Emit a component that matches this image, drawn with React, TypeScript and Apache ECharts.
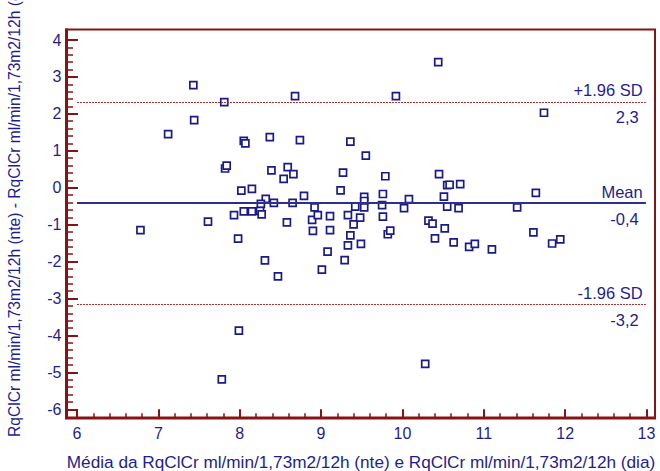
import React, { useEffect, useRef } from "react";
import * as echarts from "echarts";

// Average of the two measurements (x) for each subject
const meanValues = [
  6.78, 7.12, 7.43, 7.44, 7.81, 8.05, 8.07, 8.37, 8.68, 8.74,
  9.36, 9.55, 9.92, 10.44, 11.74, 7.82, 7.84, 8.02, 8.15, 8.32,
  8.42, 8.26, 8.39, 8.54, 8.59, 8.66, 8.65, 8.79, 8.92, 9.24,
  9.27, 9.42, 7.61, 7.93, 8.05, 8.15, 8.25, 8.27, 7.98, 8.31,
  8.47, 8.58, 8.89, 8.9, 8.96, 9.11, 9.11, 9.08, 9.01, 9.33,
  9.4, 9.36, 9.33, 9.29, 9.48, 9.49, 7.78, 7.99, 9.53, 9.53,
  9.53, 9.76, 9.79, 9.75, 9.76, 9.82, 9.85, 10.02, 10.08, 10.32,
  10.37, 10.45, 10.4, 10.28, 10.51, 10.55, 10.58, 10.71, 10.55, 10.69,
  10.52, 10.63, 10.82, 10.89, 11.1, 11.41, 11.64, 11.61, 11.84, 11.94,
];

// Difference between the two measurements (y) for each subject
const diffValues = [
  -1.15, 1.45, 2.78, 1.83, 2.32, 1.27, 1.2, 1.37, 2.48, 1.29,
  1.25, 0.87, 2.48, 3.4, 2.03, 0.52, 0.6, -0.08, -0.03, -0.3,
  -0.41, -0.44, 0.47, 0.24, 0.56, 0.37, -0.41, -0.22, -0.53, -0.07,
  0.41, -0.51, -0.92, -0.74, -0.64, -0.64, -0.63, -0.72, -1.38, -1.97,
  -2.4, -0.94, -0.87, -1.17, -0.74, -0.77, -1.15, -1.73, -2.22, -0.74,
  -0.99, -1.29, -1.56, -1.96, -0.81, -1.52, -5.19, -3.87, -0.25, -0.36,
  -0.53, -0.17, 0.31, -0.47, -0.78, -1.26, -1.16, -0.55, -0.31, -0.89,
  -0.97, 0.37, -1.37, -4.77, -0.24, 0.07, 0.08, 0.1, -0.51, -0.55,
  -1.1, -1.48, -1.6, -1.52, -1.67, -0.53, -0.14, -1.21, -1.51, -1.4,
];

const MEAN_DIFF = -0.42;
const SD_DIFF = 1.4;
const Z_95 = 1.96;

const X_TITLE = "Média da RqClCr ml/min/1,73m2/12h (nte) e RqClCr ml/min/1,73m2/12h (dia)";
const Y_TITLE = "RqClCr ml/min/1,73m2/12h (nte) - RqClCr ml/min/1,73m2/12h (dia)";

const NAVY = "#1e1e8c";
const FRAME = "#861414";
const FONT = "'Liberation Sans', Arial, sans-serif";

const fmt = (v: number) => v.toFixed(1).replace(".", ",");

export default function App() {
  const ref = useRef<HTMLDivElement>(null);

  useEffect(() => {
    document.body.style.margin = "0";
    const chart = echarts.init(ref.current!, null, { renderer: "svg" });

    const upper = MEAN_DIFF + Z_95 * SD_DIFF;
    const lower = MEAN_DIFF - Z_95 * SD_DIFF;
    const xStart = 6;
    const xEnd = 12.99;

    const labelStyle = { color: NAVY, fontSize: 16.5, fontFamily: FONT };
    const dotted = { color: "#a83232", width: 1.2, type: [2, 1] as number[] };
    const solid = { color: "#2d2d92", width: 2, type: "solid" as const };

    const refLine = (y: number, top: string, bottom: string, lineStyle: any) => [
      [
        {
          coord: [xStart, y],
          lineStyle,
          label: { ...labelStyle, formatter: top, position: "insideEndTop", distance: 3 },
        },
        { coord: [xEnd, y] },
      ],
      [
        {
          coord: [xStart, y],
          lineStyle,
          label: { ...labelStyle, formatter: bottom, position: "insideEndBottom", distance: 7 },
        },
        { coord: [xEnd, y] },
      ],
    ];

    const points = meanValues.map((x, i) => [x, diffValues[i]]);

    chart.setOption({
      animation: false,
      grid: { left: 77, right: 13.5, top: 40, bottom: 61.7, containLabel: false },
      xAxis: {
        type: "value",
        min: 6,
        max: 13,
        interval: 1,
        offset: 9,
        axisLine: { show: false, onZero: false },
        axisTick: { show: true, inside: true, length: 9, lineStyle: { color: FRAME, width: 2 } },
        minorTick: { show: true, splitNumber: 5, length: 5, lineStyle: { color: FRAME, width: 1.5 } },
        axisLabel: { color: NAVY, fontSize: 16, margin: 7, fontFamily: FONT },
        splitLine: { show: false },
        minorSplitLine: { show: false },
      },
      yAxis: {
        type: "value",
        min: -6,
        max: 4,
        interval: 1,
        offset: 10.5,
        axisLine: { show: false, onZero: false },
        axisTick: { show: true, inside: true, length: 11.5, lineStyle: { color: FRAME, width: 2 } },
        minorTick: { show: true, splitNumber: 5, length: 6.5, lineStyle: { color: FRAME, width: 1.5 } },
        axisLabel: { color: NAVY, fontSize: 16, margin: 5, fontFamily: FONT },
        splitLine: { show: false },
        minorSplitLine: { show: false },
      },
      graphic: [
        {
          type: "rect",
          shape: { x: 66.5, y: 29.5, width: 588.5, height: 388.5 },
          style: { fill: "none", stroke: FRAME, lineWidth: 2 },
          z: 10,
          silent: true,
        },
        {
          type: "line",
          shape: { x1: 66.5, y1: 28.5, x2: 66.5, y2: 419 },
          style: { stroke: FRAME, lineWidth: 3 },
          z: 10,
          silent: true,
        },
        {
          type: "line",
          shape: { x1: 65, y1: 418, x2: 656, y2: 418 },
          style: { stroke: FRAME, lineWidth: 3 },
          z: 10,
          silent: true,
        },
        {
          type: "text",
          x: 361,
          y: 462,
          style: {
            text: X_TITLE,
            fill: NAVY,
            fontSize: 17.2,
            fontFamily: FONT,
            textAlign: "center",
            textVerticalAlign: "middle",
          },
          silent: true,
        },
        {
          type: "text",
          x: 14,
          y: 437,
          rotation: Math.PI / 2,
          style: {
            text: Y_TITLE,
            fill: NAVY,
            fontSize: 15.6,
            fontFamily: FONT,
            textAlign: "left",
            textVerticalAlign: "middle",
          },
          silent: true,
        },
      ],
      series: [
        {
          type: "scatter",
          data: [],
          z: 1,
          silent: true,
          markLine: {
            silent: true,
            symbol: "none",
            animation: false,
            data: [
              ...refLine(upper, "+1.96 SD", fmt(upper), dotted),
              ...refLine(MEAN_DIFF, "Mean", fmt(MEAN_DIFF), solid),
              ...refLine(lower, "-1.96 SD", fmt(lower), dotted),
            ],
          },
        },
        {
          type: "scatter",
          data: points,
          z: 3,
          symbol: "rect",
          symbolSize: 7,
          itemStyle: { color: "#ffffff", borderColor: "#1a1a8a", borderWidth: 1.7, opacity: 1 },
          silent: true,
        },
      ],
    });

    return () => chart.dispose();
  }, []);

  return <div ref={ref} style={{ width: 660, height: 471 }} />;
}
